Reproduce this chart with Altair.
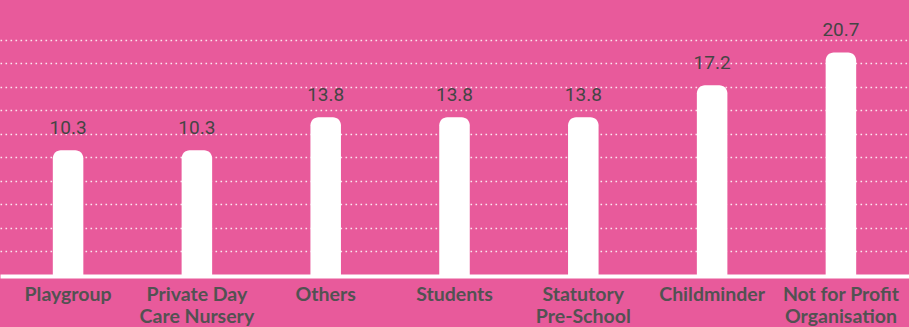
import altair as alt
import pandas as pd

categories = ["Playgroup", "Private Day\nCare Nursery", "Others", "Students",
              "Statutory\nPre-School", "Childminder", "Not for Profit\nOrganisation"]
values = [10.3, 10.3, 13.8, 13.8, 13.8, 17.2, 20.7]
grid_values = [-0.43, 2.07, 4.57, 7.07, 9.57, 12.07, 14.57, 17.07, 19.57, 22.07]
y_domain = [-3.09, 26.28]

W, H = 909, 276
BG = "#E85A9B"

df = pd.DataFrame({"category": categories, "value": values})

x = alt.X(
    "category:N", sort=categories,
    scale=alt.Scale(paddingInner=0.763, paddingOuter=0.41),
    axis=alt.Axis(title=None, labelAngle=0, labelFont="Lato", labelFontWeight="bold",
                  labelFontSize=19.5, labelColor="#525252",
                  labelExpr="split(datum.label, '\\n')", labelLineHeight=22,
                  labelPadding=9, ticks=False, domainColor="white", domainWidth=4,
                  labelBaseline="top", labelOverlap=False),
)
y = alt.Y(
    "value:Q",
    scale=alt.Scale(domain=y_domain, nice=False, zero=False),
    axis=alt.Axis(title=None, labels=False, ticks=False, domain=False, grid=True,
                  values=grid_values, gridColor="white", gridDash=[1.6, 3.4],
                  gridWidth=1.6, gridOpacity=0.85),
)

bars = alt.Chart(df).mark_bar(color="white", cornerRadiusTopLeft=8,
                              cornerRadiusTopRight=8).encode(
    x=x, y=y, y2=alt.Y2(datum=y_domain[0]))
text = alt.Chart(df).mark_text(dy=-12, baseline="bottom", font="Roboto", fontSize=19,
                               color="#454545").encode(
    x=x, y=y, text=alt.Text("value:Q", format=".1f"))

chart = (bars + text).properties(
    width=W, height=H, background=BG,
    padding={"left": 0, "top": 0, "right": 0, "bottom": 327 - H},
    autosize=alt.AutoSizeParams(type="none"),
).configure_view(stroke=None)

chart.save("out.html", embed_options={"renderer": "svg", "actions": False})
